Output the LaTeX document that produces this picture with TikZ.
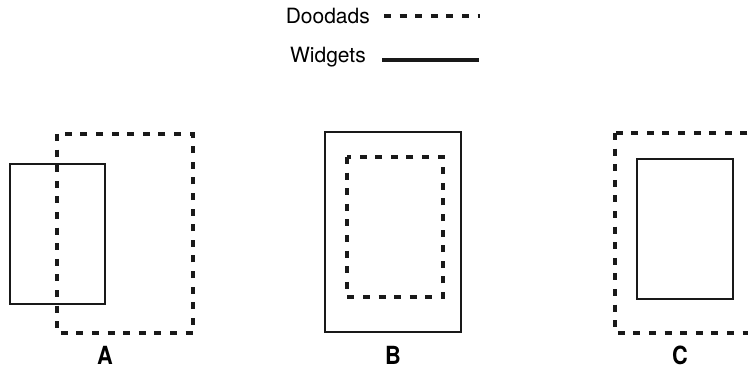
\documentclass[tikz,border=0pt]{standalone}
\usepackage{fontspec}
\setmainfont{TeX Gyre Heros}
\begin{document}
\begin{tikzpicture}[x=1pt,y=-1pt,
  doodad/.style={line width=4pt, dash pattern=on 7pt off 8.6pt, color=black!90},
  widget/.style={line width=2.2pt, color=black!90},
  lbl/.style={font=\fontsize{25}{27}\selectfont\bfseries, inner sep=0pt, anchor=base, xscale=0.87, transform shape},
  legtext/.style={font=\fontsize{21}{24}\selectfont, inner sep=0pt, anchor=east}]
\useasboundingbox (0,0) rectangle (748,369);
% legend
\node[legtext] (dtxt) at (370,16) {Doodads};
\node[legtext] (wtxt) at (366,57) {Widgets};
\coordinate (d1) at (384,16);
\coordinate (d2) at (480,16);
\coordinate (w1) at (382,60);
\coordinate (w2) at (479,60);
\draw[doodad] (d1) -- (d2);
\draw[line width=3.8pt, color=black!90] (w1) -- (w2);
% A
\draw[widget] (10,164) rectangle (105,304);
\draw[doodad] (57,134) rectangle (193,333);
\node[lbl] (la) at (105,364) {A};
% B
\draw[widget] (325,132) rectangle (461,332);
\draw[doodad] (347,157) rectangle (443,297);
\node[lbl] (lb) at (393,364) {B};
% C
\draw[doodad] (615,133) rectangle (762,333);
\draw[widget] (637,159) rectangle (733,299);
\node[lbl] (lc) at (680,364) {C};
\end{tikzpicture}
\end{document}
